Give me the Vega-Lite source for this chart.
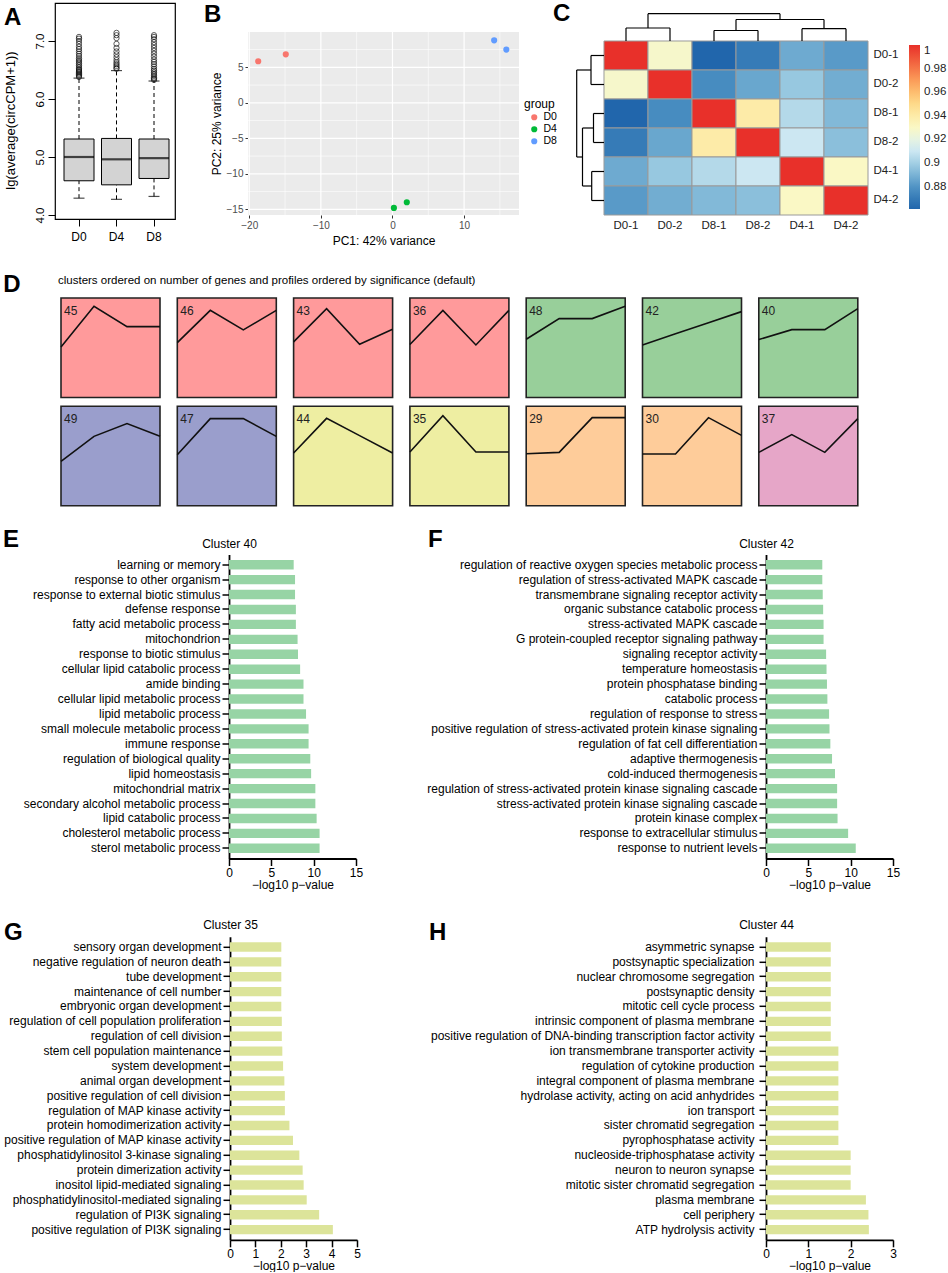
{
"$schema": "https://vega.github.io/schema/vega-lite/v6.json",
"padding": {"left": 0, "top": 2, "right": 0, "bottom": 0},
"background": "white",
"config": {
  "font": "Liberation Sans",
  "view": {"stroke": null},
  "title": {"fontSize": 24, "fontWeight": "bold", "anchor": "start", "frame": "group", "offset": 0, "baseline": "alphabetic", "color": "black", "font": "Liberation Sans"},
  "axis": {"labelColor": "black", "titleColor": "black", "titleFontWeight": "normal", "grid": false, "labelFont": "Liberation Sans", "titleFont": "Liberation Sans", "tickColor": "black", "domainColor": "black", "labelFlush": false},
  "legend": {"labelColor": "black", "titleColor": "black", "labelFont": "Liberation Sans", "titleFont": "Liberation Sans", "padding": 0},
  "header": {"titleFont": "Liberation Sans", "labelFont": "Liberation Sans"}
},
"datasets": {
  "box": [
    {"grp": "D0", "lo": 4.29, "q1": 4.59, "med": 5.0, "q3": 5.31, "hi": 6.36},
    {"grp": "D4", "lo": 4.27, "q1": 4.52, "med": 4.96, "q3": 5.32, "hi": 6.49},
    {"grp": "D8", "lo": 4.32, "q1": 4.63, "med": 4.98, "q3": 5.31, "hi": 6.31}
  ],
  "outl": [
    {"grp": "D0", "y": 6.38}, {"grp": "D0", "y": 6.4}, {"grp": "D0", "y": 6.42}, {"grp": "D0", "y": 6.44}, {"grp": "D0", "y": 6.46}, {"grp": "D0", "y": 6.48}, {"grp": "D0", "y": 6.5}, {"grp": "D0", "y": 6.52}, {"grp": "D0", "y": 6.55}, {"grp": "D0", "y": 6.58}, {"grp": "D0", "y": 6.61}, {"grp": "D0", "y": 6.64}, {"grp": "D0", "y": 6.67}, {"grp": "D0", "y": 6.7}, {"grp": "D0", "y": 6.74}, {"grp": "D0", "y": 6.78}, {"grp": "D0", "y": 6.82}, {"grp": "D0", "y": 6.86}, {"grp": "D0", "y": 6.9}, {"grp": "D0", "y": 6.95}, {"grp": "D0", "y": 7.0}, {"grp": "D0", "y": 7.04}, {"grp": "D0", "y": 7.07},
    {"grp": "D4", "y": 6.52}, {"grp": "D4", "y": 6.54}, {"grp": "D4", "y": 6.57}, {"grp": "D4", "y": 6.6}, {"grp": "D4", "y": 6.63}, {"grp": "D4", "y": 6.67}, {"grp": "D4", "y": 6.72}, {"grp": "D4", "y": 6.77}, {"grp": "D4", "y": 6.82}, {"grp": "D4", "y": 6.88}, {"grp": "D4", "y": 6.95}, {"grp": "D4", "y": 7.05}, {"grp": "D4", "y": 7.1}, {"grp": "D4", "y": 7.14},
    {"grp": "D8", "y": 6.33}, {"grp": "D8", "y": 6.35}, {"grp": "D8", "y": 6.37}, {"grp": "D8", "y": 6.4}, {"grp": "D8", "y": 6.43}, {"grp": "D8", "y": 6.46}, {"grp": "D8", "y": 6.49}, {"grp": "D8", "y": 6.52}, {"grp": "D8", "y": 6.56}, {"grp": "D8", "y": 6.6}, {"grp": "D8", "y": 6.64}, {"grp": "D8", "y": 6.68}, {"grp": "D8", "y": 6.73}, {"grp": "D8", "y": 6.78}, {"grp": "D8", "y": 6.83}, {"grp": "D8", "y": 6.88}, {"grp": "D8", "y": 6.93}, {"grp": "D8", "y": 6.98}, {"grp": "D8", "y": 7.03}, {"grp": "D8", "y": 7.07}, {"grp": "D8", "y": 7.1}
  ],
  "pca": [
    {"sample": "D0-1", "group": "D0", "PC1": -18.75, "PC2": 5.85},
    {"sample": "D0-2", "group": "D0", "PC1": -14.9, "PC2": 6.83},
    {"sample": "D4-1", "group": "D4", "PC1": 0.2, "PC2": -14.8},
    {"sample": "D4-2", "group": "D4", "PC1": 2.0, "PC2": -14.0},
    {"sample": "D8-1", "group": "D8", "PC1": 14.2, "PC2": 8.8},
    {"sample": "D8-2", "group": "D8", "PC1": 15.9, "PC2": 7.5}
  ],
  "gridx": [
    {"v": -20, "major": true}, {"v": -15, "major": false}, {"v": -10, "major": true}, {"v": -5, "major": false},
    {"v": 0, "major": true}, {"v": 5, "major": false}, {"v": 10, "major": true}, {"v": 15, "major": false}
  ],
  "gridy": [
    {"v": -15, "major": true}, {"v": -12.5, "major": false}, {"v": -10, "major": true}, {"v": -7.5, "major": false},
    {"v": -5, "major": true}, {"v": -2.5, "major": false}, {"v": 0, "major": true}, {"v": 2.5, "major": false},
    {"v": 5, "major": true}, {"v": 7.5, "major": false}
  ],
  "corr": [
    {"row": "D0-1", "col": "D0-1", "r": 1}, {"row": "D0-1", "col": "D0-2", "r": 0.928}, {"row": "D0-1", "col": "D8-1", "r": 0.861}, {"row": "D0-1", "col": "D8-2", "r": 0.87}, {"row": "D0-1", "col": "D4-1", "r": 0.887}, {"row": "D0-1", "col": "D4-2", "r": 0.882},
    {"row": "D0-2", "col": "D0-1", "r": 0.928}, {"row": "D0-2", "col": "D0-2", "r": 1}, {"row": "D0-2", "col": "D8-1", "r": 0.877}, {"row": "D0-2", "col": "D8-2", "r": 0.886}, {"row": "D0-2", "col": "D4-1", "r": 0.897}, {"row": "D0-2", "col": "D4-2", "r": 0.888},
    {"row": "D8-1", "col": "D0-1", "r": 0.861}, {"row": "D8-1", "col": "D0-2", "r": 0.877}, {"row": "D8-1", "col": "D8-1", "r": 1}, {"row": "D8-1", "col": "D8-2", "r": 0.94}, {"row": "D8-1", "col": "D4-1", "r": 0.904}, {"row": "D8-1", "col": "D4-2", "r": 0.892},
    {"row": "D8-2", "col": "D0-1", "r": 0.87}, {"row": "D8-2", "col": "D0-2", "r": 0.886}, {"row": "D8-2", "col": "D8-1", "r": 0.94}, {"row": "D8-2", "col": "D8-2", "r": 1}, {"row": "D8-2", "col": "D4-1", "r": 0.91}, {"row": "D8-2", "col": "D4-2", "r": 0.894},
    {"row": "D4-1", "col": "D0-1", "r": 0.887}, {"row": "D4-1", "col": "D0-2", "r": 0.897}, {"row": "D4-1", "col": "D8-1", "r": 0.904}, {"row": "D4-1", "col": "D8-2", "r": 0.91}, {"row": "D4-1", "col": "D4-1", "r": 1}, {"row": "D4-1", "col": "D4-2", "r": 0.93},
    {"row": "D4-2", "col": "D0-1", "r": 0.882}, {"row": "D4-2", "col": "D0-2", "r": 0.888}, {"row": "D4-2", "col": "D8-1", "r": 0.892}, {"row": "D4-2", "col": "D8-2", "r": 0.894}, {"row": "D4-2", "col": "D4-1", "r": 0.93}, {"row": "D4-2", "col": "D4-2", "r": 1}
  ],
  "dendro": [
    {"p1": 0.5, "p2": 0.5, "h1": 0, "h2": 13}, {"p1": 1.5, "p2": 1.5, "h1": 0, "h2": 13}, {"p1": 0.5, "p2": 1.5, "h1": 13, "h2": 13},
    {"p1": 2.5, "p2": 2.5, "h1": 0, "h2": 10.5}, {"p1": 3.5, "p2": 3.5, "h1": 0, "h2": 10.5}, {"p1": 2.5, "p2": 3.5, "h1": 10.5, "h2": 10.5},
    {"p1": 4.5, "p2": 4.5, "h1": 0, "h2": 12.3}, {"p1": 5.5, "p2": 5.5, "h1": 0, "h2": 12.3}, {"p1": 4.5, "p2": 5.5, "h1": 12.3, "h2": 12.3},
    {"p1": 3, "p2": 3, "h1": 10.5, "h2": 21.5}, {"p1": 5, "p2": 5, "h1": 12.3, "h2": 21.5}, {"p1": 3, "p2": 5, "h1": 21.5, "h2": 21.5},
    {"p1": 1, "p2": 1, "h1": 13, "h2": 27.3}, {"p1": 4, "p2": 4, "h1": 21.5, "h2": 27.3}, {"p1": 1, "p2": 4, "h1": 27.3, "h2": 27.3}
  ],
  "prof": [
    {"cluster": "45", "family": "f1", "t": 0, "v": 0.508}, {"cluster": "45", "family": "f1", "t": 1, "v": 0.916}, {"cluster": "45", "family": "f1", "t": 2, "v": 0.712}, {"cluster": "45", "family": "f1", "t": 3, "v": 0.712},
    {"cluster": "46", "family": "f1", "t": 0, "v": 0.552}, {"cluster": "46", "family": "f1", "t": 1, "v": 0.876}, {"cluster": "46", "family": "f1", "t": 2, "v": 0.679}, {"cluster": "46", "family": "f1", "t": 3, "v": 0.876},
    {"cluster": "43", "family": "f1", "t": 0, "v": 0.559}, {"cluster": "43", "family": "f1", "t": 1, "v": 0.893}, {"cluster": "43", "family": "f1", "t": 2, "v": 0.535}, {"cluster": "43", "family": "f1", "t": 3, "v": 0.686},
    {"cluster": "36", "family": "f1", "t": 0, "v": 0.532}, {"cluster": "36", "family": "f1", "t": 1, "v": 0.876}, {"cluster": "36", "family": "f1", "t": 2, "v": 0.528}, {"cluster": "36", "family": "f1", "t": 3, "v": 0.876},
    {"cluster": "48", "family": "f2", "t": 0, "v": 0.585}, {"cluster": "48", "family": "f2", "t": 1, "v": 0.793}, {"cluster": "48", "family": "f2", "t": 2, "v": 0.793}, {"cluster": "48", "family": "f2", "t": 3, "v": 0.916},
    {"cluster": "42", "family": "f2", "t": 0, "v": 0.528}, {"cluster": "42", "family": "f2", "t": 1, "v": 0.64}, {"cluster": "42", "family": "f2", "t": 2, "v": 0.752}, {"cluster": "42", "family": "f2", "t": 3, "v": 0.863},
    {"cluster": "40", "family": "f2", "t": 0, "v": 0.582}, {"cluster": "40", "family": "f2", "t": 1, "v": 0.682}, {"cluster": "40", "family": "f2", "t": 2, "v": 0.682}, {"cluster": "40", "family": "f2", "t": 3, "v": 0.893},
    {"cluster": "49", "family": "f3", "t": 0, "v": 0.446}, {"cluster": "49", "family": "f3", "t": 1, "v": 0.698}, {"cluster": "49", "family": "f3", "t": 2, "v": 0.826}, {"cluster": "49", "family": "f3", "t": 3, "v": 0.698},
    {"cluster": "47", "family": "f3", "t": 0, "v": 0.513}, {"cluster": "47", "family": "f3", "t": 1, "v": 0.876}, {"cluster": "47", "family": "f3", "t": 2, "v": 0.876}, {"cluster": "47", "family": "f3", "t": 3, "v": 0.698},
    {"cluster": "44", "family": "f4", "t": 0, "v": 0.53}, {"cluster": "44", "family": "f4", "t": 1, "v": 0.879}, {"cluster": "44", "family": "f4", "t": 2, "v": 0.705}, {"cluster": "44", "family": "f4", "t": 3, "v": 0.53},
    {"cluster": "35", "family": "f4", "t": 0, "v": 0.54}, {"cluster": "35", "family": "f4", "t": 1, "v": 0.906}, {"cluster": "35", "family": "f4", "t": 2, "v": 0.54}, {"cluster": "35", "family": "f4", "t": 3, "v": 0.54},
    {"cluster": "29", "family": "f5", "t": 0, "v": 0.523}, {"cluster": "29", "family": "f5", "t": 1, "v": 0.537}, {"cluster": "29", "family": "f5", "t": 2, "v": 0.886}, {"cluster": "29", "family": "f5", "t": 3, "v": 0.886},
    {"cluster": "30", "family": "f5", "t": 0, "v": 0.52}, {"cluster": "30", "family": "f5", "t": 1, "v": 0.52}, {"cluster": "30", "family": "f5", "t": 2, "v": 0.886}, {"cluster": "30", "family": "f5", "t": 3, "v": 0.708},
    {"cluster": "37", "family": "f6", "t": 0, "v": 0.537}, {"cluster": "37", "family": "f6", "t": 1, "v": 0.715}, {"cluster": "37", "family": "f6", "t": 2, "v": 0.537}, {"cluster": "37", "family": "f6", "t": 3, "v": 0.876}
  ],
  "e": [
    {"term": "learning or memory", "v": 7.64}, {"term": "response to other organism", "v": 7.8}, {"term": "response to external biotic stimulus", "v": 7.8}, {"term": "defense response", "v": 7.9}, {"term": "fatty acid metabolic process", "v": 7.9},
    {"term": "mitochondrion", "v": 8.1}, {"term": "response to biotic stimulus", "v": 8.15}, {"term": "cellular lipid catabolic process", "v": 8.4}, {"term": "amide binding", "v": 8.8}, {"term": "cellular lipid metabolic process", "v": 8.8},
    {"term": "lipid metabolic process", "v": 9.1}, {"term": "small molecule metabolic process", "v": 9.4}, {"term": "immune response", "v": 9.4}, {"term": "regulation of biological quality", "v": 9.6}, {"term": "lipid homeostasis", "v": 9.7},
    {"term": "mitochondrial matrix", "v": 10.2}, {"term": "secondary alcohol metabolic process", "v": 10.2}, {"term": "lipid catabolic process", "v": 10.35}, {"term": "cholesterol metabolic process", "v": 10.7}, {"term": "sterol metabolic process", "v": 10.7}
  ],
  "f": [
    {"term": "regulation of reactive oxygen species metabolic process", "v": 6.65}, {"term": "regulation of stress-activated MAPK cascade", "v": 6.65}, {"term": "transmembrane signaling receptor activity", "v": 6.7}, {"term": "organic substance catabolic process", "v": 6.75}, {"term": "stress-activated MAPK cascade", "v": 6.8},
    {"term": "G protein-coupled receptor signaling pathway", "v": 6.8}, {"term": "signaling receptor activity", "v": 7.1}, {"term": "temperature homeostasis", "v": 7.15}, {"term": "protein phosphatase binding", "v": 7.2}, {"term": "catabolic process", "v": 7.25},
    {"term": "regulation of response to stress", "v": 7.45}, {"term": "positive regulation of stress-activated protein kinase signaling ", "v": 7.5}, {"term": "regulation of fat cell differentiation", "v": 7.6}, {"term": "adaptive thermogenesis", "v": 7.8}, {"term": "cold-induced thermogenesis", "v": 8.15},
    {"term": "regulation of stress-activated protein kinase signaling cascade", "v": 8.4}, {"term": "stress-activated protein kinase signaling cascade", "v": 8.4}, {"term": "protein kinase complex", "v": 8.45}, {"term": "response to extracellular stimulus", "v": 9.7}, {"term": "response to nutrient levels", "v": 10.6}
  ],
  "g": [
    {"term": "sensory organ development", "v": 2.02}, {"term": "negative regulation of neuron death", "v": 2.02}, {"term": "tube development", "v": 2.02}, {"term": "maintenance of cell number", "v": 2.02}, {"term": "embryonic organ development", "v": 2.02},
    {"term": "regulation of cell population proliferation", "v": 2.04}, {"term": "regulation of cell division", "v": 2.04}, {"term": "stem cell population maintenance", "v": 2.06}, {"term": "system development", "v": 2.09}, {"term": "animal organ development", "v": 2.14},
    {"term": "positive regulation of cell division", "v": 2.16}, {"term": "regulation of MAP kinase activity", "v": 2.16}, {"term": "protein homodimerization activity", "v": 2.34}, {"term": "positive regulation of MAP kinase activity", "v": 2.48}, {"term": "phosphatidylinositol 3-kinase signaling", "v": 2.73},
    {"term": "protein dimerization activity", "v": 2.86}, {"term": "inositol lipid-mediated signaling", "v": 2.9}, {"term": "phosphatidylinositol-mediated signaling", "v": 3.02}, {"term": "regulation of PI3K signaling", "v": 3.51}, {"term": "positive regulation of PI3K signaling", "v": 4.05}
  ],
  "h": [
    {"term": "asymmetric synapse", "v": 1.53}, {"term": "postsynaptic specialization", "v": 1.53}, {"term": "nuclear chromosome segregation", "v": 1.53}, {"term": "postsynaptic density", "v": 1.53}, {"term": "mitotic cell cycle process", "v": 1.53},
    {"term": "intrinsic component of plasma membrane", "v": 1.53}, {"term": "positive regulation of DNA-binding transcription factor activity", "v": 1.53}, {"term": "ion transmembrane transporter activity", "v": 1.71}, {"term": "regulation of cytokine production", "v": 1.71}, {"term": "integral component of plasma membrane", "v": 1.71},
    {"term": "hydrolase activity, acting on acid anhydrides", "v": 1.71}, {"term": "ion transport", "v": 1.71}, {"term": "sister chromatid segregation", "v": 1.71}, {"term": "pyrophosphatase activity", "v": 1.71}, {"term": "nucleoside-triphosphatase activity", "v": 2.0},
    {"term": "neuron to neuron synapse", "v": 2.0}, {"term": "mitotic sister chromatid segregation", "v": 2.0}, {"term": "plasma membrane", "v": 2.36}, {"term": "cell periphery", "v": 2.42}, {"term": "ATP hydrolysis activity", "v": 2.43}
  ],
  "pad": [{"s": 0}]
},
"spacing": 20.5,
"resolve": {"scale": {"x": "independent", "y": "independent", "color": "independent", "fill": "independent"}},
"vconcat": [
 {
  "spacing": 26,
  "resolve": {"scale": {"x": "independent", "y": "independent", "color": "independent", "fill": "independent"}},
  "vconcat": [
  {
   "spacing": 2,
   "resolve": {"scale": {"x": "independent", "y": "independent", "color": "independent"}},
   "hconcat": [
    {"width": 1, "height": 1, "data": {"name": "pad"}, "mark": {"type": "point", "size": 1, "opacity": 0}},
    {
    "hconcat": [
      {
        "width": 120, "height": 216,
        "view": {"stroke": "black", "strokeWidth": 1.2},
        "title": {"text": "A", "dx": -51, "dy": 31},
        "layer": [
          {"data": {"name": "box"}, "mark": {"type": "rule", "strokeDash": [4, 3], "color": "black", "strokeWidth": 1},
           "encoding": {
             "x": {"field": "grp", "type": "nominal", "scale": {"paddingInner": 0, "paddingOuter": 0.1, "align": 0.7}, "axis": {"title": null, "labelAngle": 0, "labelFontSize": 12, "tickSize": 7, "labelPadding": 5, "domain": false}},
             "y": {"field": "q3", "type": "quantitative", "scale": {"domain": [3.931, 7.655], "nice": false, "zero": false}, "axis": {"values": [4, 4.5, 5, 5.5, 6, 6.5, 7, 7.5], "format": ".1f", "labelAngle": -90, "labelAlign": "center", "labelBaseline": "bottom", "labelFontSize": 11.5, "tickSize": 7, "labelPadding": 3, "domain": false, "title": "lg(average(circCPM+1))", "titleFontSize": 13, "titleX": -44.5, "titleY": 117, "titleAngle": -90, "titleAlign": "center", "titleBaseline": "middle"}},
             "y2": {"field": "hi"}}},
          {"data": {"name": "box"}, "mark": {"type": "rule", "strokeDash": [4, 3], "color": "black", "strokeWidth": 1},
           "encoding": {"x": {"field": "grp", "type": "nominal"}, "y": {"field": "lo", "type": "quantitative"}, "y2": {"field": "q1"}}},
          {"data": {"name": "box"}, "mark": {"type": "tick", "size": 11, "thickness": 1.2, "color": "black"},
           "encoding": {"x": {"field": "grp", "type": "nominal"}, "y": {"field": "lo", "type": "quantitative"}}},
          {"data": {"name": "box"}, "mark": {"type": "tick", "size": 11, "thickness": 1.2, "color": "black"},
           "encoding": {"x": {"field": "grp", "type": "nominal"}, "y": {"field": "hi", "type": "quantitative"}}},
          {"data": {"name": "box"}, "mark": {"type": "bar", "width": 30, "fill": "#D3D3D3", "stroke": "black", "strokeWidth": 1},
           "encoding": {"x": {"field": "grp", "type": "nominal"}, "y": {"field": "q1", "type": "quantitative"}, "y2": {"field": "q3"}}},
          {"data": {"name": "box"}, "mark": {"type": "tick", "size": 30, "thickness": 2.2, "color": "black"},
           "encoding": {"x": {"field": "grp", "type": "nominal"}, "y": {"field": "med", "type": "quantitative"}}},
          {"data": {"name": "outl"}, "mark": {"type": "point", "shape": "circle", "filled": false, "size": 28, "strokeWidth": 0.9, "color": "black"},
           "encoding": {"x": {"field": "grp", "type": "nominal"}, "y": {"field": "y", "type": "quantitative"}}}
        ]
      },
      {
        "width": 287, "height": 212,
        "title": {"text": "B", "dx": -28, "dy": 28},
        "layer": [
          {"data": {"name": "pca"}, "transform": [{"aggregate": [{"op": "count", "as": "n"}]}],
           "mark": {"type": "rect", "color": "#EBEBEB"},
           "encoding": {
             "x": {"datum": -20.18, "type": "quantitative", "scale": {"domain": [-22.41, 17.67], "nice": false, "zero": false},
                   "axis": {"values": [-20, -10, 0, 10], "title": "PC1: 42% variance", "titleFontSize": 12, "titleX": 151.5, "titleY": 25, "titleBaseline": "middle", "titleAlign": "center", "labelFontSize": 10, "labelColor": "#4D4D4D", "tickColor": "#333333", "tickSize": 3, "domain": false, "labelPadding": 2}},
             "x2": {"datum": 17.67},
             "y": {"datum": -15.8, "type": "quantitative", "scale": {"domain": [-15.8, 14.06], "nice": false, "zero": false},
                   "axis": {"values": [-15, -10, -5, 0, 5], "offset": -16, "title": "PC2: 25% variance", "titleFontSize": 12, "titleX": -32, "titleY": 120.5, "titleAngle": -90, "titleBaseline": "middle", "titleAlign": "center", "labelFontSize": 10, "labelColor": "#4D4D4D", "tickColor": "#333333", "tickSize": 3, "domain": false, "labelPadding": 2}},
             "y2": {"datum": 9.97}}},
          {"data": {"name": "gridx"}, "transform": [{"filter": "!datum.major"}], "mark": {"type": "rule", "color": "white", "strokeWidth": 0.6},
           "encoding": {"x": {"field": "v", "type": "quantitative"}, "y": {"datum": -15.8, "type": "quantitative"}, "y2": {"datum": 9.97}}},
          {"data": {"name": "gridx"}, "transform": [{"filter": "datum.major"}], "mark": {"type": "rule", "color": "white", "strokeWidth": 1.2},
           "encoding": {"x": {"field": "v", "type": "quantitative"}, "y": {"datum": -15.8, "type": "quantitative"}, "y2": {"datum": 9.97}}},
          {"data": {"name": "gridy"}, "transform": [{"filter": "!datum.major"}], "mark": {"type": "rule", "color": "white", "strokeWidth": 0.6},
           "encoding": {"y": {"field": "v", "type": "quantitative"}, "x": {"datum": -20.18, "type": "quantitative"}, "x2": {"datum": 17.67}}},
          {"data": {"name": "gridy"}, "transform": [{"filter": "datum.major"}], "mark": {"type": "rule", "color": "white", "strokeWidth": 1.2},
           "encoding": {"y": {"field": "v", "type": "quantitative"}, "x": {"datum": -20.18, "type": "quantitative"}, "x2": {"datum": 17.67}}},
          {"data": {"name": "pca"}, "mark": {"type": "point", "filled": true, "opacity": 1, "size": 38, "shape": "circle"},
           "encoding": {
             "x": {"field": "PC1", "type": "quantitative"},
             "y": {"field": "PC2", "type": "quantitative"},
             "color": {"field": "group", "type": "nominal", "scale": {"domain": ["D0", "D4", "D8"], "range": ["#F8766D", "#00BA38", "#619CFF"]},
                       "legend": {"orient": "none", "legendX": 292, "legendY": 96, "title": "group", "titleFontSize": 12, "titleFontWeight": "normal", "titlePadding": 1, "labelFontSize": 10.5, "symbolType": "circle", "symbolSize": 38, "symbolOffset": 5, "rowPadding": 1, "labelOffset": 4}}}}
        ]
      },
      {
        "width": 292, "height": 212,
        "title": {"text": "C", "dx": -23, "dy": 27},
        "resolve": {"scale": {"x": "independent", "y": "independent"}, "axis": {"x": "independent", "y": "independent"}},
        "layer": [
          {"data": {"name": "corr"}, "mark": {"type": "rect", "stroke": "#9a9a9a", "strokeWidth": 1},
           "encoding": {
             "x": {"field": "col", "type": "nominal", "sort": ["D0-1", "D0-2", "D8-1", "D8-2", "D4-1", "D4-2"], "scale": {"type": "band", "paddingInner": 0, "paddingOuter": 0.318, "align": 1},
                   "axis": {"orient": "bottom", "title": null, "ticks": false, "domain": false, "labelFontSize": 11.5, "labelPadding": 4, "labelAngle": 0, "labelColor": "#222"}},
             "y": {"field": "row", "type": "nominal", "sort": ["D0-1", "D0-2", "D8-1", "D8-2", "D4-1", "D4-2"], "scale": {"type": "band", "paddingInner": 0, "paddingOuter": 0.655, "align": 1},
                   "axis": {"orient": "right", "title": null, "ticks": false, "domain": false, "labelFontSize": 11.5, "labelPadding": 5, "labelColor": "#222"}},
             "color": {"field": "r", "type": "quantitative",
                       "scale": {"domain": [0.861, 0.8784, 0.8958, 0.9131, 0.9305, 0.9479, 0.9653, 0.9826, 1.0], "range": ["#2166ac", "#4a8fc2", "#92c5de", "#d9eff6", "#fbf8c4", "#fee090", "#fdae61", "#f46d43", "#e8302a"], "interpolate": "rgb"},
                       "legend": {"orient": "none", "legendX": 333, "legendY": 42, "direction": "vertical", "gradientLength": 164, "gradientThickness": 11, "title": null, "values": [0.88, 0.9, 0.92, 0.94, 0.96, 0.98, 1], "format": "~g", "labelFontSize": 11.5, "labelOffset": 4, "gradientStrokeWidth": 0, "labelColor": "#222"}}}},
          {"data": {"name": "dendro"}, "mark": {"type": "rule", "color": "black", "strokeWidth": 1.2},
           "encoding": {
             "x": {"field": "p1", "type": "quantitative", "scale": {"domain": [-0.6364, 6], "nice": false, "zero": false}, "axis": null},
             "x2": {"field": "p2"},
             "y": {"field": "h1", "type": "quantitative", "scale": {"domain": [-174, 38], "nice": false, "zero": false}, "axis": null},
             "y2": {"field": "h2"}}},
          {"data": {"name": "dendro"}, "mark": {"type": "rule", "color": "black", "strokeWidth": 1.2},
           "encoding": {
             "x": {"field": "h1", "type": "quantitative", "scale": {"domain": [-264, 28], "reverse": true, "nice": false, "zero": false}, "axis": null},
             "x2": {"field": "h2"},
             "y": {"field": "p1", "type": "quantitative", "scale": {"domain": [-1.3103, 6], "reverse": true, "nice": false, "zero": false}, "axis": null},
             "y2": {"field": "p2"}}}
        ]
      }
    ],
    "spacing": 57,
    "bounds": "flush",
    "resolve": {"scale": {"x": "independent", "y": "independent", "color": "independent"}}
    }
   ]
  },
  {
   "spacing": 2,
   "resolve": {"scale": {"x": "independent", "y": "independent", "fill": "independent"}},
   "hconcat": [
    {"width": 1, "height": 1, "data": {"name": "pad"}, "mark": {"type": "point", "size": 1, "opacity": 0}},
    {
        "data": {"name": "prof"},
        "title": {"text": "D", "dx": -57.7, "dy": 26},
        "facet": {"field": "cluster", "type": "nominal", "sort": ["45", "46", "43", "36", "48", "42", "40", "49", "47", "44", "35", "29", "30", "37"],
                  "header": {"title": "clusters ordered on number of genes and profiles ordered by significance (default)", "titleFontSize": 11.5, "titleFontWeight": "normal", "titleAnchor": "start", "titleColor": "black", "titlePadding": 10, "labels": false, "labelExpr": "''", "labelFontSize": 1, "labelPadding": 0}},
        "columns": 7,
        "spacing": {"row": 5.3, "column": 9.3},
        "spec": {
          "width": 99, "height": 99.5,
          "layer": [
            {"transform": [{"filter": "datum.t === 0"}],
             "mark": {"type": "rect", "stroke": "#222222", "strokeWidth": 1.6},
             "encoding": {
               "x": {"datum": 0, "type": "quantitative", "scale": {"domain": [0, 3], "nice": false, "zero": false}, "axis": null},
               "x2": {"datum": 3},
               "y": {"datum": 0, "type": "quantitative", "scale": {"domain": [0, 1], "nice": false, "zero": false}, "axis": null},
               "y2": {"datum": 1},
               "fill": {"field": "family", "type": "nominal", "scale": {"domain": ["f1", "f2", "f3", "f4", "f5", "f6"], "range": ["#FF9A9B", "#98CF9A", "#9A9ECC", "#EEEEA2", "#FECC9A", "#E6A6C8"]}, "legend": null}}},
            {"mark": {"type": "line", "color": "#111111", "strokeWidth": 1.6},
             "encoding": {"x": {"field": "t", "type": "quantitative"}, "y": {"field": "v", "type": "quantitative"}}},
            {"transform": [{"filter": "datum.t === 0"}],
             "mark": {"type": "text", "align": "left", "baseline": "top", "dx": 3, "dy": 7.5, "fontSize": 12, "color": "#222222"},
             "encoding": {"x": {"datum": 0, "type": "quantitative"}, "y": {"datum": 1, "type": "quantitative"}, "text": {"field": "cluster"}}}
          ]
        }
    }
   ]
  }
  ]
 },
 {
  "spacing": 28.3,
  "resolve": {"scale": {"x": "independent", "y": "independent"}},
  "vconcat": [
   {
    "spacing": 2,
    "resolve": {"scale": {"x": "independent", "y": "independent"}},
    "hconcat": [
     {"width": 1, "height": 1, "data": {"name": "pad"}, "mark": {"type": "point", "size": 1, "opacity": 0}},
     {
        "hconcat": [
          {
            "width": 127, "height": 304,
            "data": {"name": "e"},
            "title": {"text": "E", "dx": -226, "dy": 18},
            "mark": {"type": "bar", "color": "#97D4A5"},
            "encoding": {
              "y": {"field": "term", "type": "nominal", "sort": null, "scale": {"paddingInner": 0.37, "paddingOuter": 0.37},
                    "axis": {"title": "Cluster 40", "titleX": 0, "titleY": -6.7, "titleAngle": 0, "titleAlign": "center", "titleBaseline": "alphabetic", "titleFontSize": 12, "labelFontSize": 12, "labelLimit": 500, "tickSize": 7, "tickWidth": 1.5, "domainWidth": 1.8, "labelPadding": 2}},
              "x": {"field": "v", "type": "quantitative", "scale": {"domain": [0, 15], "nice": false},
                    "axis": {"values": [0, 5, 10, 15], "title": "−log10 p−value", "titleFontSize": 12, "labelFontSize": 12, "tickSize": 7, "tickWidth": 1.5, "domainWidth": 1.8, "labelPadding": 2, "titlePadding": 1}}
            }
          },
          {
            "width": 127, "height": 304,
            "data": {"name": "f"},
            "title": {"text": "F", "dx": -338, "dy": 18},
            "mark": {"type": "bar", "color": "#97D4A5"},
            "encoding": {
              "y": {"field": "term", "type": "nominal", "sort": null, "scale": {"paddingInner": 0.37, "paddingOuter": 0.37},
                    "axis": {"title": "Cluster 42", "titleX": 0, "titleY": -6.7, "titleAngle": 0, "titleAlign": "center", "titleBaseline": "alphabetic", "titleFontSize": 12, "labelFontSize": 12, "labelLimit": 500, "tickSize": 7, "tickWidth": 1.5, "domainWidth": 1.8, "labelPadding": 2}},
              "x": {"field": "v", "type": "quantitative", "scale": {"domain": [0, 15], "nice": false},
                    "axis": {"values": [0, 5, 10, 15], "title": "−log10 p−value", "titleFontSize": 12, "labelFontSize": 12, "tickSize": 7, "tickWidth": 1.5, "domainWidth": 1.8, "labelPadding": 2, "titlePadding": 1}}
            }
          }
        ],
        "spacing": 410,
        "bounds": "flush",
        "resolve": {"scale": {"x": "independent", "y": "independent"}}
     }
    ]
   },
   {
    "spacing": 2,
    "resolve": {"scale": {"x": "independent", "y": "independent"}},
    "hconcat": [
     {"width": 1, "height": 1, "data": {"name": "pad"}, "mark": {"type": "point", "size": 1, "opacity": 0}},
     {
        "hconcat": [
          {
            "width": 127, "height": 303,
            "data": {"name": "g"},
            "title": {"text": "G", "dx": -226, "dy": 30.6},
            "mark": {"type": "bar", "color": "#DCE49A"},
            "encoding": {
              "y": {"field": "term", "type": "nominal", "sort": null, "scale": {"paddingInner": 0.37, "paddingOuter": 0.37},
                    "axis": {"title": "Cluster 35", "titleX": 0, "titleY": -8, "titleAngle": 0, "titleAlign": "center", "titleBaseline": "alphabetic", "titleFontSize": 12, "labelFontSize": 12, "labelLimit": 500, "tickSize": 7, "tickWidth": 1.5, "domainWidth": 1.8, "labelPadding": 2}},
              "x": {"field": "v", "type": "quantitative", "scale": {"domain": [0, 5], "nice": false},
                    "axis": {"values": [0, 1, 2, 3, 4, 5], "title": "−log10 p−value", "titleFontSize": 12, "labelFontSize": 12, "tickSize": 7, "tickWidth": 1.5, "domainWidth": 1.8, "labelPadding": 2, "titlePadding": 1}}
            }
          },
          {
            "width": 127, "height": 303,
            "data": {"name": "h"},
            "title": {"text": "H", "dx": -337, "dy": 30.6},
            "mark": {"type": "bar", "color": "#DCE49A"},
            "encoding": {
              "y": {"field": "term", "type": "nominal", "sort": null, "scale": {"paddingInner": 0.37, "paddingOuter": 0.37},
                    "axis": {"title": "Cluster 44", "titleX": 0, "titleY": -8, "titleAngle": 0, "titleAlign": "center", "titleBaseline": "alphabetic", "titleFontSize": 12, "labelFontSize": 12, "labelLimit": 500, "tickSize": 7, "tickWidth": 1.5, "domainWidth": 1.8, "labelPadding": 5}},
              "x": {"field": "v", "type": "quantitative", "scale": {"domain": [0, 3], "nice": false},
                    "axis": {"values": [0, 1, 2, 3], "title": "−log10 p−value", "titleFontSize": 12, "labelFontSize": 12, "tickSize": 7, "tickWidth": 1.5, "domainWidth": 1.8, "labelPadding": 2, "titlePadding": 1}}
            }
          }
        ],
        "spacing": 409,
        "bounds": "flush",
        "resolve": {"scale": {"x": "independent", "y": "independent"}}
     }
    ]
   }
  ]
 }
]
}
